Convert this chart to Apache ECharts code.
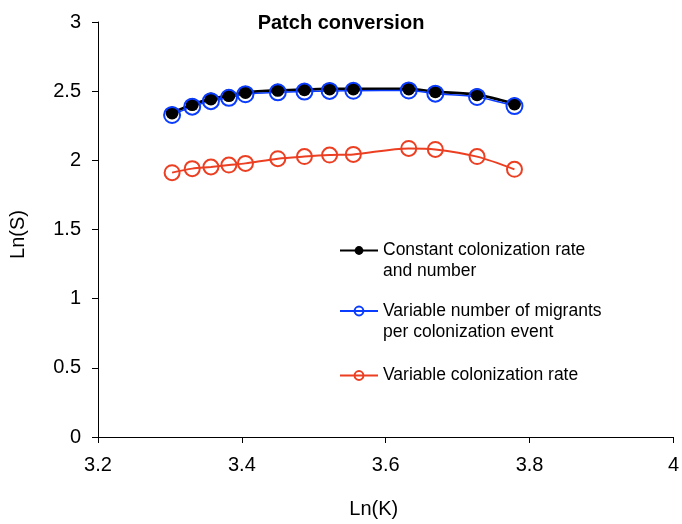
<!DOCTYPE html>
<html>
<head>
<meta charset="utf-8">
<script src="https://cdn.jsdelivr.net/npm/echarts@6/dist/echarts.min.js"></script>
<style>html,body{margin:0;padding:0;background:#fff}#c{width:682px;height:524px}</style>
</head>
<body>
<div id="c"></div>
<script>
// Data
const lnK = [3.303, 3.331, 3.357, 3.382, 3.405, 3.450, 3.487, 3.522, 3.555, 3.632, 3.669, 3.727, 3.779];
const constantRate = [2.343, 2.403, 2.444, 2.468, 2.491, 2.506, 2.511, 2.516, 2.516, 2.516, 2.496, 2.475, 2.408];
const variableMigrants = [2.328, 2.388, 2.428, 2.452, 2.478, 2.492, 2.497, 2.502, 2.503, 2.505, 2.482, 2.458, 2.392];
const variableRate = [1.911, 1.940, 1.952, 1.966, 1.978, 2.012, 2.027, 2.038, 2.043, 2.086, 2.079, 2.027, 1.935];
const seriesNames = [
  'Constant colonization rate\nand number',
  'Variable number of migrants\nper colonization event',
  'Variable colonization rate'
];
const titleText = 'Patch conversion';
const xName = 'Ln(K)';
const yName = 'Ln(S)';

const pairs = ys => lnK.map((x, i) => [x, ys[i]]);
const FONT = 'Liberation Sans, Arial, sans-serif';
const BLUE = '#0a3cff';
const RED = '#ec3f22';

const chart = echarts.init(document.getElementById('c'));
const legendText = {fontFamily: FONT, fontSize: 17.5, color: '#000', lineHeight: 21};
const legendBase = {orient: 'vertical', left: 339, itemWidth: 38, itemHeight: 11, itemGap: 0, padding: 0, textStyle: legendText};
chart.setOption({
  animation: false,
  backgroundColor: '#fff',
  title: {
    text: titleText, left: 'center', top: 8,
    textStyle: {fontFamily: FONT, fontSize: 20, fontWeight: 'bold', color: '#000'}
  },
  grid: {left: 97, right: 7, top: 22, bottom: 85, containLabel: false},
  xAxis: {
    type: 'value', min: 3.2, max: 4, interval: 0.2,
    name: xName, nameLocation: 'middle', nameGap: 62,
    nameTextStyle: {fontFamily: FONT, fontSize: 20, color: '#000', padding: [0, 24, 0, 0]},
    axisLine: {show: true, onZero: false, lineStyle: {color: '#000', width: 1}},
    axisTick: {show: true, inside: false, length: 6, lineStyle: {color: '#000'}},
    axisLabel: {fontFamily: FONT, fontSize: 20, color: '#000', margin: 18,
      formatter: v => String(Math.round(v * 10) / 10)},
    splitLine: {show: false}
  },
  yAxis: {
    type: 'value', min: 0, max: 3, interval: 0.5,
    name: yName, nameLocation: 'middle', nameGap: 70,
    nameTextStyle: {fontFamily: FONT, fontSize: 20, color: '#000', padding: [0, 10, 0, 0]},
    axisLine: {show: true, lineStyle: {color: '#000', width: 1}},
    axisTick: {show: true, inside: false, length: 6, lineStyle: {color: '#000'}},
    axisLabel: {fontFamily: FONT, fontSize: 20, color: '#000', margin: 17,
      formatter: v => String(Math.round(v * 10) / 10)},
    splitLine: {show: false}
  },
  legend: [
    Object.assign({}, legendBase, {top: 219, formatter: '\n{name}', data: [seriesNames[0]]}),
    Object.assign({}, legendBase, {top: 279.5, formatter: '\n{name}', data: [seriesNames[1]]}),
    Object.assign({}, legendBase, {top: 365, data: [seriesNames[2]]})
  ],
  series: [
    {
      name: seriesNames[0], type: 'line', smooth: 0.3, data: pairs(constantRate),
      symbol: 'circle', symbolSize: 13,
      lineStyle: {color: '#000', width: 2.7},
      itemStyle: {color: '#000', borderColor: '#000', borderWidth: 0}
    },
    {
      name: seriesNames[1], type: 'line', smooth: 0.3, data: pairs(variableMigrants),
      symbol: 'circle', symbolSize: 16,
      lineStyle: {color: BLUE, width: 1.5},
      itemStyle: {color: 'rgba(0,0,0,0)', borderColor: BLUE, borderWidth: 2}
    },
    {
      name: seriesNames[2], type: 'line', smooth: 0.3, data: pairs(variableRate),
      symbol: 'circle', symbolSize: 15,
      lineStyle: {color: RED, width: 2},
      itemStyle: {color: 'rgba(0,0,0,0)', borderColor: RED, borderWidth: 2}
    }
  ]
});
</script>
</body>
</html>
